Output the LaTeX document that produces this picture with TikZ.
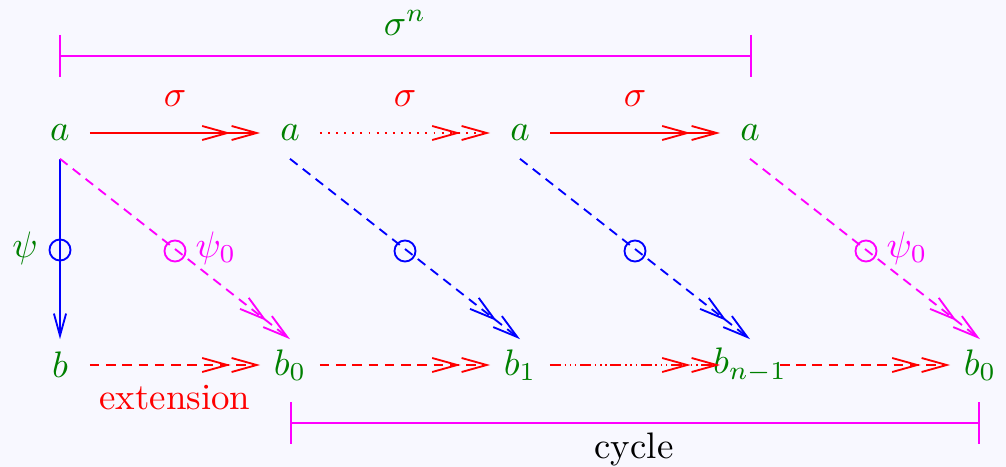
\documentclass[tikz,border=0pt]{standalone}
\usetikzlibrary{arrows.meta}
\definecolor{bg}{RGB}{248,248,255}
\definecolor{fgreen}{RGB}{0,128,0}
\definecolor{fmag}{RGB}{255,0,255}
\definecolor{fred}{RGB}{255,0,0}
\definecolor{fblue}{RGB}{0,0,255}
\begin{document}
\begin{tikzpicture}[x=0.271pt,y=-0.271pt,line width=0.5pt,
  pt/.style={inner sep=0,minimum width=15.7pt,minimum height=13.5pt,text=fgreen},
  dbl/.style={-{Straight Barb[length=6.8pt,width=3.8pt]Straight Barb[length=6.8pt,width=3.8pt]}},
  sgl/.style={-{Straight Barb[length=6pt,width=3.3pt]}},
  dsh/.style={dash pattern=on 2.6pt off 1.8pt},
  dotline/.style={dash pattern=on 0.5pt off 1.7pt},
  ddd/.style={dash pattern=on 3pt off 1pt on 0.4pt off 1pt on 0.4pt off 1pt on 0.4pt off 1pt},
  ring/.style={circle,draw,inner sep=0,minimum size=5.7pt},
  lbl/.style={inner sep=0}]
\useasboundingbox (0,0) rectangle (1006,467);
\fill[bg] (0,0) rectangle (1006,467);
% nodes
\node[pt] (a1) at (60,133) {\makebox[0pt]{$a$}};
\node[pt] (a2) at (290,133) {\makebox[0pt]{$a$}};
\node[pt] (a3) at (520,133) {\makebox[0pt]{$a$}};
\node[pt] (a4) at (750,133) {\makebox[0pt]{$a$}};
\node[pt] (b) at (60,365) {\makebox[0pt]{$b$}};
\node[pt] (b0) at (290,365) {\makebox[0pt]{$b_0$}};
\node[pt] (b1) at (520,365) {\makebox[0pt]{$b_1$}};
\node[pt] (bn) at (750,365) {\makebox[0pt]{$b_{n-1}$}};
\node[pt] (b0r) at (980,365) {\makebox[0pt]{$b_0$}};
% top row
\draw[fred,dbl] (a1.east) -- (a2.west);
\draw[fred,dbl,dotline] (a2.east) -- (a3.west);
\draw[fred,dbl] (a3.east) -- (a4.west);
\node[lbl,text=fred] (s1) at (175,99) {$\sigma$};
\node[lbl,text=fred] (s2) at (405,99) {$\sigma$};
\node[lbl,text=fred] (s3) at (635,99) {$\sigma$};
% bottom row
\draw[fred,dbl,dsh] (b.east) -- (b0.west);
\draw[fred,dbl,dsh] (b0.east) -- (b1.west);
\draw[fred,dbl,ddd] (b1.east) -- (bn.west);
\draw[fred,dbl,dsh] (bn.east) -- (b0r.west);
\node[lbl,text=fred] (ext) at (175,398) {extension};
% vertical and diagonals
\draw[fblue,sgl] (a1.south) -- (b.north);
\node[ring,fblue] (c0) at (60,250) {};
\node[lbl,text=fgreen] (psi) at (25,248) {$\psi$};
\draw[fmag,dbl,dsh] (a1.south) -- (b0.north);
\node[ring,fmag] (c1) at (175,251) {};
\node[lbl,text=fmag] (psi1) at (216,248) {$\psi_0$};
\draw[fblue,dbl,dsh] (a2.south) -- (b1.north);
\node[ring,fblue] (c2) at (405,251) {};
\draw[fblue,dbl,dsh] (a3.south) -- (bn.north);
\node[ring,fblue] (c3) at (635,251) {};
\draw[fmag,dbl,dsh] (a4.south) -- (b0r.north);
\node[ring,fmag] (c4) at (866,251) {};
\node[lbl,text=fmag] (psi2) at (907,248) {$\psi_0$};
% brackets
\coordinate (t1) at (60,56);
\coordinate (t2) at (751,56);
\draw[fmag] (t1) -- (t2);
\draw[fmag] (t1) ++(0,-21) -- ++(0,42);
\draw[fmag] (t2) ++(0,-21) -- ++(0,42);
\node[lbl,text=fgreen] (sn) at (405,23) {$\sigma^n$};
\coordinate (u1) at (291,423);
\coordinate (u2) at (979,423);
\draw[fmag] (u1) -- (u2);
\draw[fmag] (u1) ++(0,-21) -- ++(0,42);
\draw[fmag] (u2) ++(0,-21) -- ++(0,42);
\node[lbl] (cyc) at (634,449) {cycle};
\end{tikzpicture}
\end{document}
